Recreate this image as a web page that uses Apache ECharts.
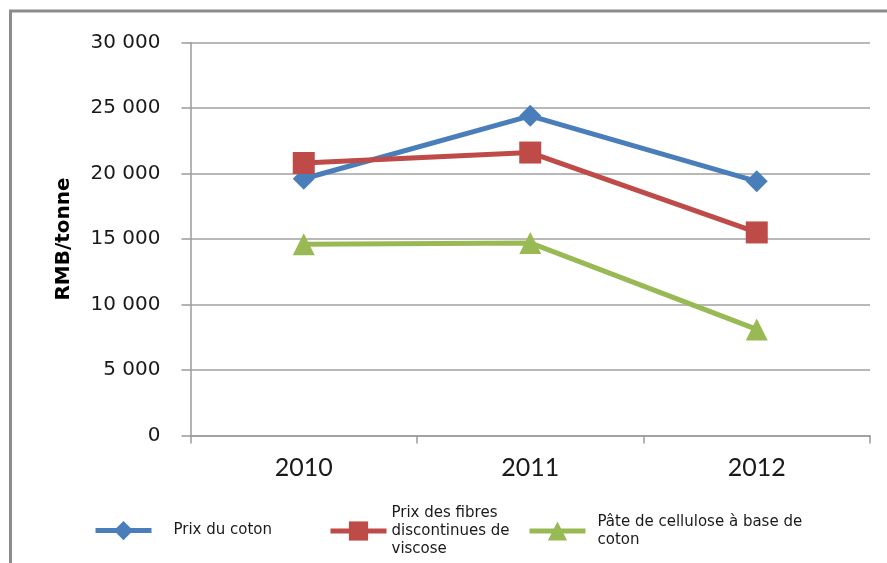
<!DOCTYPE html>
<html>
<head>
<meta charset="utf-8">
<script src="https://cdn.jsdelivr.net/npm/echarts@6/dist/echarts.min.js"></script>
<style>
  html, body { margin: 0; padding: 0; background: #fff; }
  #chart { width: 887px; height: 563px; }
</style>
</head>
<body>
<div id="chart"></div>
<script>
// chart data
let years = ['2010', '2011', '2012'];
let prix_coton = [19600, 24400, 19400];
let prix_viscose = [20800, 21600, 15500];
let pate_cellulose = [14600, 14700, 8100];
let y_ticks = [0, 5000, 10000, 15000, 20000, 25000, 30000];

let name_coton = 'Prix du coton';
let name_viscose = 'Prix des fibres\ndiscontinues de\nviscose';
let name_pate = 'Pâte de cellulose à base de\ncoton';

let blue = '#4A7EBB';
let red = '#BE4B48';
let green = '#98B954';


document.addEventListener("DOMContentLoaded", () => {
    draw_chart();
});


function fmt_thousands(v) {
    return String(v).replace(/\B(?=(\d{3})+(?!\d))/g, ' ');
}


function legend_box(name, left, top, pad) {
    return {
        data: [name],
        left: left,
        top: top,
        padding: 0,
        orient: 'horizontal',
        itemWidth: 56,
        itemHeight: 24,
        selectedMode: false,
        lineStyle: { width: 5 },
        textStyle: {
            fontFamily: 'DejaVu Sans',
            fontSize: 15,
            lineHeight: 18,
            color: '#1a1a1a',
            padding: [0, 0, 0, pad]
        }
    };
}


function draw_chart() {

    var line_series = function (name, data, color, symbol) {
        return {
            name: name,
            type: 'line',
            data: data,
            symbol: symbol,
            symbolSize: 22,
            lineStyle: { color: color, width: 5 },
            itemStyle: { color: color },
            animation: false
        };
    };

    echarts.init(document.querySelector("#chart")).setOption({
        backgroundColor: '#fff',
        animation: false,
        graphic: [{
            type: 'rect',
            shape: { x: 10.5, y: 11, width: 1000, height: 1000 },
            style: { fill: 'none', stroke: '#8c8c8c', lineWidth: 3 },
            silent: true
        }],
        grid: {
            left: 190.5,
            right: 17,
            top: 42.5,
            bottom: 127.5
        },
        legend: [
            legend_box(name_coton, 93, 521, 17),
            legend_box(name_viscose, 328, 504, 0),
            legend_box(name_pate, 527, 513, 7)
        ],
        xAxis: {
            type: 'category',
            data: years,
            boundaryGap: true,
            axisLine: { lineStyle: { color: '#9a9a9a', width: 1.5 } },
            axisTick: { show: true, length: 8, alignWithLabel: false, lineStyle: { color: '#9a9a9a', width: 1.5 } },
            axisLabel: {
                margin: 20,
                fontFamily: 'Lato',
                fontSize: 25,
                color: '#1a1a1a'
            }
        },
        yAxis: {
            type: 'value',
            min: y_ticks[0],
            max: y_ticks[y_ticks.length - 1],
            interval: 5000,
            name: 'RMB/tonne',
            nameLocation: 'middle',
            nameRotate: 90,
            nameGap: 117,
            nameTextStyle: {
                fontFamily: 'DejaVu Sans',
                fontWeight: 'bold',
                fontSize: 20,
                color: '#000'
            },
            axisLine: { show: true, lineStyle: { color: '#9a9a9a', width: 1.5 } },
            axisTick: { show: true, length: 9, lineStyle: { color: '#9a9a9a', width: 1.5 } },
            splitLine: { show: true, lineStyle: { color: '#a0a0a0', width: 1.5 } },
            axisLabel: {
                margin: 30,
                fontFamily: 'DejaVu Sans',
                fontSize: 20,
                color: '#1a1a1a',
                formatter: fmt_thousands
            }
        },
        series: [
            line_series(name_coton, prix_coton, blue, 'diamond'),
            line_series(name_viscose, prix_viscose, red, 'rect'),
            line_series(name_pate, pate_cellulose, green, 'triangle')
        ]
    });

}
</script>
</body>
</html>
